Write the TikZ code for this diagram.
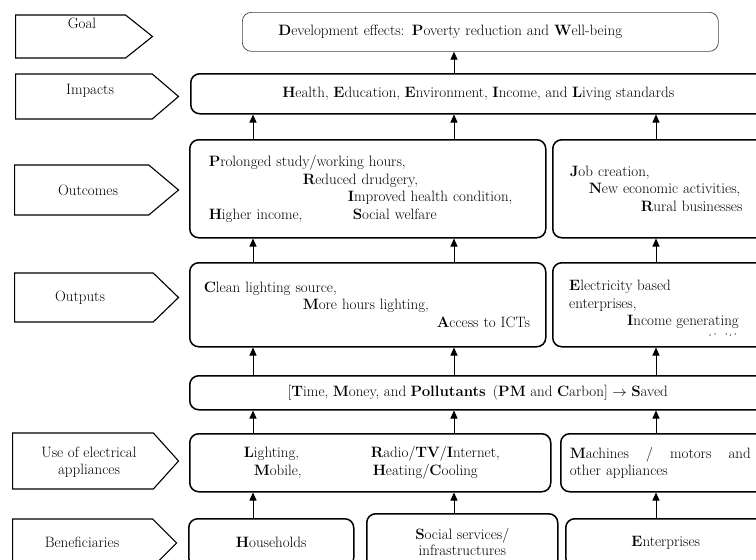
\documentclass[tikz,border=0pt]{standalone}
\usetikzlibrary{arrows.meta,shapes.symbols}

\begin{document}
\begin{tikzpicture}[x=1pt,y=-1pt,font=\fontsize{15}{17.5}\selectfont]
    \tikzset{stage/.style = {shape=signal, signal to=east, draw, line width=1.1pt, inner sep=0pt, anchor=west}}
    \tikzset{box/.style = {draw, line width=1.5pt, rounded corners=9pt, inner sep=0pt, anchor=north west}}
    \tikzset{arr/.style = {-{Triangle[length=8pt,width=7pt]}, line width=0.9pt}}

    \useasboundingbox (0,0) rectangle (756,560);

    % stages on the left
    \node[stage, signal pointer angle=77, minimum width=137, minimum height=43] (goal) at (15,36.5) {};
    \node[stage, signal pointer angle=81, minimum width=163, minimum height=45] (impact) at (15,96.5) {};
    \node[stage, signal pointer angle=80, minimum width=164, minimum height=50] (outcome) at (14,190) {};
    \node[stage, signal pointer angle=88, minimum width=164, minimum height=49] (output) at (14,297.5) {};
    \node[stage, signal pointer angle=96, minimum width=166, minimum height=56] (use) at (12,461) {};
    \node[stage, signal pointer angle=90, minimum width=164, minimum height=48] (benef) at (12,543) {};

    \node (goaltxt) at (82,23) {Goal};
    \node (impacttxt) at (90,91) {Impacts};
    \node (outcometxt) at (88,190) {Outcomes};
    \node (outputtxt) at (80,298) {Outputs};
    \node[align=center] (usetxt) at (89,462) {Use of electrical\\appliances};
    \node (beneftxt) at (82,542) {Beneficiaries};

    % boxes
    \node[box, line width=0.7pt, draw=black!75, minimum width=476, minimum height=39, inner xsep=36, text width=404, align=left] (goalbox) at (242,12)
        {\mbox{\textbf{D}evelopment effects: \textbf{P}overty reduction and \textbf{W}ell-being}};
    \node[box, minimum width=575, minimum height=40] (imp) at (190,73)
        {\textbf{H}ealth, \textbf{E}ducation, \textbf{E}nvironment, \textbf{I}ncome, and \textbf{L}iving standards};

    \node[box, minimum width=356, minimum height=98, inner xsep=19, text width=318, align=left] (outcL) at (189,139)
        {\mbox{\textbf{P}rolonged study/working hours,}\\
         \mbox{\hspace*{94pt}\textbf{R}educed drudgery,}\\
         \mbox{\hspace*{139pt}\textbf{I}mproved health condition,}\\
         \mbox{\makebox[144pt][l]{\textbf{H}igher income,}\textbf{S}ocial welfare}};
    \node[box, minimum width=213, minimum height=98, inner xsep=17, text width=179, align=left] (outcR) at (552,139)
        {\mbox{\textbf{J}ob creation,}\\
         \mbox{\hspace*{19pt}\textbf{N}ew economic activities,}\\
         \mbox{\hspace*{71pt}\textbf{R}ural businesses}};

    \node[box, minimum width=356, minimum height=84, inner xsep=14, text width=328, align=left] (outpL) at (189,262)
        {\mbox{\textbf{C}lean lighting source,}\\
         \mbox{\hspace*{99pt}\textbf{M}ore hours lighting,}\\
         \mbox{\hspace*{233pt}\textbf{A}ccess to ICTs}};
    \node[box, minimum width=213, minimum height=84] (outpR) at (552,262) {};
    \begin{scope}
        \clip (552,262) rectangle (765,335);
        \node[anchor=north west, align=left, inner sep=0pt] (outpRtxt) at (569,280)
            {\mbox{\textbf{E}lectricity based}\\
             \mbox{enterprises,}\\
             \mbox{\hspace*{58pt}\textbf{I}ncome generating}\\
             \mbox{\hspace*{126pt}activities}};
    \end{scope}

    \node[box, minimum width=576, minimum height=34] (saved) at (189,375)
        {[\textbf{T}ime, \textbf{M}oney, and \textbf{Pollutants}\, (\textbf{PM} and \textbf{C}arbon] $\rightarrow$ \textbf{S}aved};

    \node[box, minimum width=361, minimum height=58, inner xsep=54, text width=253, align=left] (useL) at (189,433)
        {\mbox{\makebox[127pt][l]{\textbf{L}ighting,}\textbf{R}adio/\textbf{TV}/\textbf{I}nternet,}\\
         \mbox{\hspace*{10pt}\makebox[119pt][l]{\textbf{M}obile,}\textbf{H}eating/\textbf{C}ooling}};
    \node[box, minimum width=205, minimum height=58, inner xsep=9, text width=187, align=left] (useR) at (560,433)
        {\makebox[181pt][l]{\textbf{M}achines\hfill/\hfill motors\hfill and}\\
         other appliances};

    \node[box, minimum width=165, minimum height=48] (hh) at (188,518) {\textbf{H}ouseholds};
    \node[box, minimum width=191, minimum height=56, align=center, font=\fontsize{15}{16.5}\selectfont] (soc) at (366,513) {\textbf{S}ocial services/\\infrastructures};
    \node[box, minimum width=200, minimum height=48] (ent) at (565,518) {\textbf{E}nterprises};

    % arrows
    \coordinate (xa) at (253,0);
    \coordinate (xb) at (454,0);
    \coordinate (xc) at (656,0);
    \draw[arr] (xb |- imp.north) -- (xb |- goalbox.south);
    \foreach \s/\c/\t in {outcL/xa/imp, outcL/xb/imp, outcR/xc/imp,
                          outpL/xa/outcL, outpL/xb/outcL, outpR/xc/outcR,
                          saved/xa/outpL, saved/xb/outpL, saved/xc/outpR,
                          useL/xa/saved, useL/xb/saved, useR/xc/saved,
                          hh/xa/useL, soc/xb/useL, ent/xc/useR}
        \draw[arr] (\c |- \s.north) -- (\c |- \t.south);
\end{tikzpicture}
\end{document}
